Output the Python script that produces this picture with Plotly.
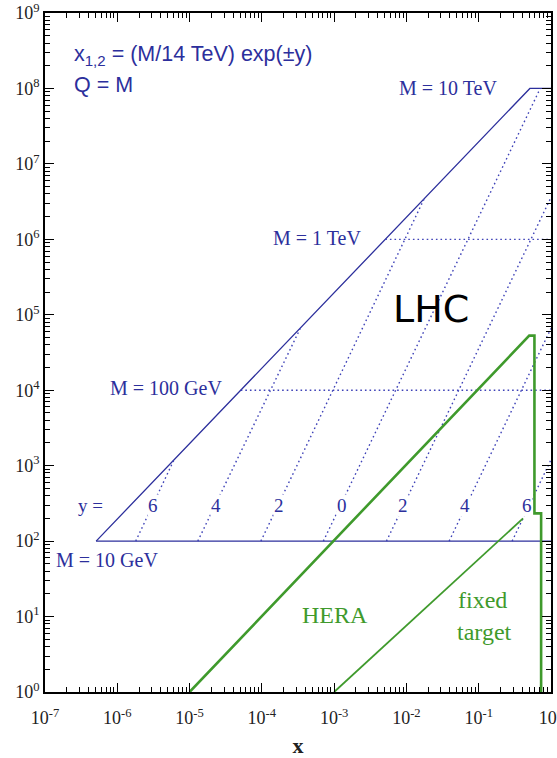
import plotly.graph_objects as go

# ---- data ----
# LHC kinematic boundary (solid blue)
lhc_edge_x = [5.1e-7, 0.51, 1.0]
lhc_edge_q2 = [1e2, 1e8, 1e8]
lhc_floor_x = [5.1e-7, 1.0]
lhc_floor_q2 = [1e2, 1e2]

# constant-mass dotted lines
mass_x = [[5.1e-5, 1.0], [5.1e-3, 1.0]]
mass_q2 = [[1e4, 1e4], [1e6, 1e6]]

# constant-rapidity dotted lines
rap_labels = ["6", "4", "2", "0", "2", "4", "6"]
rap_x = [[1.8e-6, 6.1e-6], [1.3e-5, 3.4e-4], [9.7e-5, 1.8e-2], [7.1e-4, 0.71],
         [5.3e-3, 1.0], [3.9e-2, 1.0], [0.29, 1.0]]
rap_q2 = [[1e2, 1.2e3], [1e2, 6.6e4], [1e2, 3.6e6], [1e2, 1e8],
          [1e2, 3.6e6], [1e2, 6.6e4], [1e2, 1.2e3]]

# HERA (thick green) and fixed target (green)
hera_x = [1e-5, 0.50, 0.59, 0.59, 0.73, 0.73]
hera_q2 = [1.0, 5.3e4, 5.3e4, 2.33e2, 2.33e2, 1.0]
ft_x = [1e-3, 0.41]
ft_q2 = [1.0, 2.0e2]

x_ticks = [1e-7, 1e-6, 1e-5, 1e-4, 1e-3, 1e-2, 1e-1, 1e0]
x_tick_text = ["10<sup>-7</sup>", "10<sup>-6</sup>", "10<sup>-5</sup>", "10<sup>-4</sup>",
               "10<sup>-3</sup>", "10<sup>-2</sup>", "10<sup>-1</sup>", "10<sup>0</sup>"]
y_ticks = [1e0, 1e1, 1e2, 1e3, 1e4, 1e5, 1e6, 1e7, 1e8, 1e9]
y_tick_text = ["10<sup>%d</sup>" % k for k in range(10)]

BLUE = "#2c2f9c"
DOT = "#3f43b8"
GREEN = "#3f9a2c"
SERIF = "Liberation Serif"
SANS = "Liberation Sans"
DOTS = "1.6px,3px"

# minor tick positions (2..9 within each decade)
x_minor = [m * 10.0 ** e for e in range(-7, 0) for m in range(2, 10)]
y_minor = [m * 10.0 ** e for e in range(0, 9) for m in range(2, 10)]

fig = go.Figure()

fig.add_trace(go.Scatter(x=lhc_edge_x, y=lhc_edge_q2, mode="lines",
                         line=dict(color=BLUE, width=1.3), showlegend=False))
fig.add_trace(go.Scatter(x=lhc_floor_x, y=lhc_floor_q2, mode="lines",
                         line=dict(color=BLUE, width=1.3), showlegend=False))
for xs, qs in zip(mass_x, mass_q2):
    fig.add_trace(go.Scatter(x=xs, y=qs, mode="lines",
                             line=dict(color=DOT, width=1.4, dash=DOTS), showlegend=False))
for xs, qs in zip(rap_x, rap_q2):
    fig.add_trace(go.Scatter(x=xs, y=qs, mode="lines",
                             line=dict(color=DOT, width=1.4, dash=DOTS), showlegend=False))
fig.add_trace(go.Scatter(x=hera_x, y=hera_q2, mode="lines",
                         line=dict(color=GREEN, width=2.6), showlegend=False))
fig.add_trace(go.Scatter(x=ft_x, y=ft_q2, mode="lines",
                         line=dict(color=GREEN, width=1.8), showlegend=False))


def label(x, y, text, family, size, color, xanchor="center", bg=None):
    d = dict(x=x, y=y, xref="paper", yref="paper", text=text, showarrow=False,
             xanchor=xanchor, yanchor="middle",
             font=dict(family=family, size=size, color=color))
    if bg:
        d.update(bgcolor=bg, borderpad=0)
    return d


# label positions (paper fractions of the plot area)
rap_label_px = [0.213, 0.338, 0.462, 0.587, 0.708, 0.830, 0.953]
ann = [label(px, 0.275, lab, SERIF, 19, BLUE, bg="white")
       for lab, px in zip(rap_labels, rap_label_px)]
ann += [
    label(0.089, 0.275, "y =", SERIF, 19, BLUE),
    label(0.053, 0.938, "x<sub>1,2</sub> = (M/14 TeV) exp(±y)", SANS, 21.5, BLUE, xanchor="left"),
    label(0.053, 0.894, "Q = M", SANS, 21.5, BLUE, xanchor="left"),
    label(0.797, 0.890, "M = 10 TeV", SERIF, 20, BLUE),
    label(0.538, 0.669, "M = 1 TeV", SERIF, 20, BLUE),
    label(0.239, 0.448, "M = 100 GeV", SERIF, 20, BLUE),
    label(0.123, 0.194, "M = 10 GeV", SERIF, 20, BLUE),
    label(0.763, 0.564, "LHC", "DejaVu Sans", 38, "black"),
    label(0.573, 0.113, "HERA", SERIF, 24, GREEN),
    label(0.864, 0.135, "fixed", SERIF, 24, GREEN),
    label(0.868, 0.088, "target", SERIF, 24, GREEN),
]

axis_common = dict(
    type="log", showgrid=False, zeroline=False, showline=True, linecolor="black",
    linewidth=1.5, mirror="allticks", ticks="inside", ticklen=9, tickwidth=1.2,
    tickcolor="black", automargin=False, ticklabeloverflow="allow",
    tickfont=dict(family=SERIF, size=18, color="#222"),
)

fig.update_layout(
    width=557, height=758,
    margin=dict(l=45, r=6, t=13, b=66),
    paper_bgcolor="white", plot_bgcolor="white",
    xaxis=dict(axis_common, range=[-7, 0], tickvals=x_ticks, ticktext=x_tick_text,
               ticklabelstandoff=9,
               minor=dict(ticks="inside", ticklen=5, tickwidth=1, tickcolor="black",
                          tickvals=x_minor, showgrid=False),
               title=dict(text="<b>x</b>", font=dict(family=SERIF, size=22, color="#222"),
                          standoff=11)),
    yaxis=dict(axis_common, range=[0, 9], tickvals=y_ticks, ticktext=y_tick_text,
               minor=dict(ticks="inside", ticklen=5, tickwidth=1, tickcolor="black",
                          tickvals=y_minor, showgrid=False)),
    annotations=ann,
)

fig.write_html("out.html", config={"displayModeBar": False},
               post_script="document.body.style.margin='0px';")
